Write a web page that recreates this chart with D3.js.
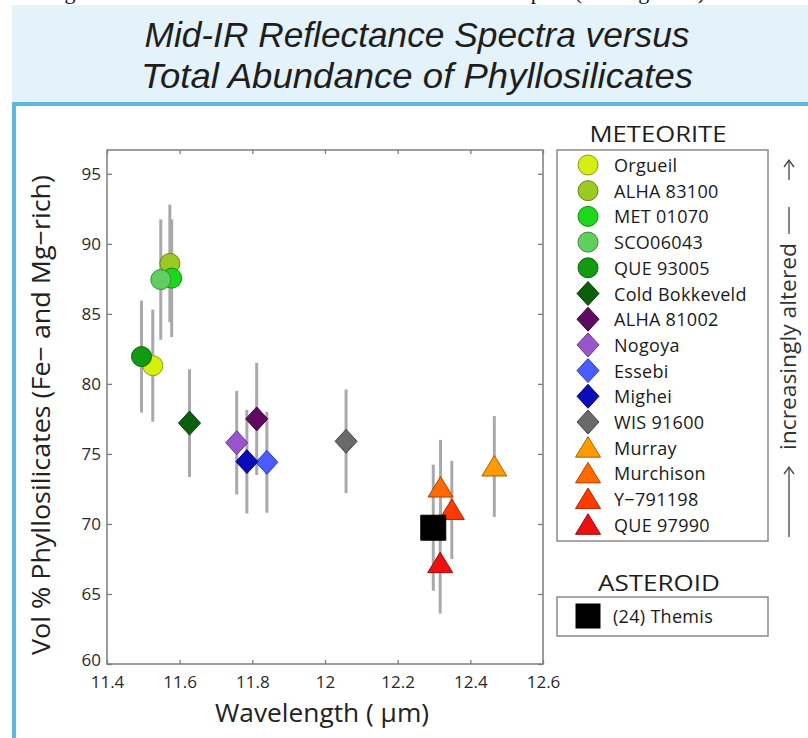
<!DOCTYPE html>
<html><head><meta charset="utf-8">
<script src="https://cdn.jsdelivr.net/npm/d3@7"></script>
<style>body{margin:0;background:#fff}svg{display:block}</style>
</head><body>
<script>
// ---------- data ----------
const names = ["Orgueil","ALHA 83100","MET 01070","SCO06043","QUE 93005","Cold Bokkeveld","ALHA 81002","Nogoya","Essebi","Mighei","WIS 91600","Murray","Murchison","Y\u2212791198","QUE 97990"];
const shapes = ["circle","circle","circle","circle","circle","diamond","diamond","diamond","diamond","diamond","diamond","triangle","triangle","triangle","triangle"];
const colors = ["#d6ee12","#9acb22","#1bd81b","#5fd05f","#139a13","#0c5f0c","#5e0a5e","#9b55cc","#4a5cff","#0b0bb8","#6a6a6a","#ff9a00","#ff6a00","#ff3b00","#ee1010"];
const wavelength = [11.526,11.573,11.578,11.548,11.495,11.627,11.812,11.757,11.840,11.785,12.058,12.466,12.318,12.349,12.317];
const phyllo = [81.3,88.6,87.55,87.45,81.95,77.2,77.5,75.8,74.4,74.45,75.9,74.1,72.6,71.0,67.2];
const errBar = [4.0,4.2,4.2,4.3,4.0,3.85,4.0,3.7,3.6,3.7,3.7,3.6,3.4,3.5,3.6];
const asteroidName = ["(24) Themis"];
const asteroidWave = [12.298];
const asteroidVal = [69.73];
const asteroidErr = [4.5];
const xTicks = [11.4,11.6,11.8,12,12.2,12.4,12.6];
const xTickLabels = ["11.4","11.6","11.8","12","12.2","12.4","12.6"];
const yTicks = [60,65,70,75,80,85,90,95];

// ---------- layout ----------
const W = 808, H = 738;
const svg = d3.select("body").append("svg").attr("width", W).attr("height", H);
svg.append("rect").attr("width", W).attr("height", H).attr("fill", "#fff");

// cut-off caption line at very top
svg.append("text").attr("x", 45).attr("y", -1)
  .attr("font-family", "Liberation Serif").attr("font-size", 22).attr("fill", "#111")
  .attr("textLength", 660)
  .text("Figure 2. Mid-infrared reflectance of meteorite samples (see Figure 1)");

// header
svg.append("rect").attr("x", 12).attr("y", 5).attr("width", W - 12).attr("height", 98).attr("fill", "#e4f2f9");
svg.append("rect").attr("x", 12).attr("y", 102).attr("width", W - 12).attr("height", 4).attr("fill", "#5cb8dc");
svg.append("rect").attr("x", 12).attr("y", 102).attr("width", 4).attr("height", H - 102).attr("fill", "#5cb8dc");

const title = ["Mid-IR Reflectance Spectra versus", "Total Abundance of Phyllosilicates"];
svg.selectAll("text.title").data(title).join("text").attr("class", "title")
  .attr("x", 417).attr("y", (d, i) => 47 + i * 41)
  .attr("text-anchor", "middle")
  .attr("font-family", "Liberation Sans, Arial, sans-serif").attr("font-style", "italic")
  .attr("font-size", 35).attr("fill", "#1e1e1e")
  .attr("textLength", (d, i) => i === 0 ? 545 : 552)
  .attr("lengthAdjust", "spacingAndGlyphs")
  .text(d => d);

// ---------- plot ----------
const x = d3.scaleLinear().domain([11.4, 12.6]).range([107, 543]);
const y = d3.scaleLinear().domain([60, 96.7]).range([664, 150]);
const axisColor = "#7d7d7d";
const FONT = "Open Sans, Noto Sans, sans-serif";

const gx = svg.append("g").attr("transform", `translate(0,${y.range()[0]})`)
  .call(d3.axisBottom(x).tickValues(xTicks).tickFormat((d, i) => xTickLabels[i]).tickSizeInner(-4).tickSizeOuter(0));
gx.select(".domain").remove();
gx.selectAll("line").attr("stroke", axisColor).attr("stroke-width", 1.3);
gx.selectAll("text").attr("y", 12).attr("font-family", FONT).attr("font-size", 17).attr("fill", "#2a2a2a");

const gxt = svg.append("g").attr("transform", `translate(0,${y.range()[1]})`)
  .call(d3.axisTop(x).tickValues(xTicks).tickFormat("").tickSizeInner(-4).tickSizeOuter(0));
gxt.select(".domain").remove();
gxt.selectAll("line").attr("stroke", axisColor).attr("stroke-width", 1.3);

const gy = svg.append("g").attr("transform", `translate(${x.range()[0]},0)`)
  .call(d3.axisLeft(y).tickValues(yTicks).tickFormat(d3.format("d")).tickSizeInner(-5).tickSizeOuter(0).tickPadding(6));
gy.select(".domain").remove();
gy.selectAll("line").attr("stroke", axisColor).attr("stroke-width", 1.3);
gy.selectAll("text").attr("x", -6).attr("font-family", FONT).attr("font-size", 17).attr("fill", "#2a2a2a");
gy.selectAll(".tick").filter(d => d === 60).select("text").attr("dy", "0.1em");

const gyr = svg.append("g").attr("transform", `translate(${x.range()[1]},0)`)
  .call(d3.axisRight(y).tickValues(yTicks).tickFormat("").tickSizeInner(-5).tickSizeOuter(0));
gyr.select(".domain").remove();
gyr.selectAll("line").attr("stroke", axisColor).attr("stroke-width", 1.3);

svg.append("rect").attr("x", x.range()[0]).attr("y", y.range()[1])
  .attr("width", x.range()[1] - x.range()[0]).attr("height", y.range()[0] - y.range()[1])
  .attr("fill", "none").attr("stroke", axisColor).attr("stroke-width", 1.5);

// axis titles
svg.append("text").attr("x", 322).attr("y", 722).attr("text-anchor", "middle")
  .attr("font-family", FONT).attr("font-size", 26).attr("fill", "#222")
  .attr("textLength", 214).attr("lengthAdjust", "spacingAndGlyphs")
  .text("Wavelength ( \u03bcm)");
svg.append("text").attr("transform", "translate(50,415) rotate(-90)").attr("text-anchor", "middle")
  .attr("font-family", FONT).attr("font-size", 26).attr("fill", "#222")
  .attr("textLength", 480).attr("lengthAdjust", "spacingAndGlyphs")
  .text("Vol % Phyllosilicates (Fe\u2212 and Mg\u2212rich)");

// marker shapes
function shapePath(type) {
  if (type === "circle") return "M10,0A10,10 0 1,1 -10,0A10,10 0 1,1 10,0Z";
  if (type === "diamond") return "M0,-12L11,0L0,12L-11,0Z";
  if (type === "triangle") return "M0,-11L12.5,9.5L-12.5,9.5Z";
  if (type === "square") return "M-12.5,-12.5H12.5V12.5H-12.5Z";
}
const meteorites = names.map((n, i) => ({name: n, shape: shapes[i], color: colors[i], w: wavelength[i], v: phyllo[i], e: errBar[i]}));
const asteroids = asteroidName.map((n, i) => ({name: n, shape: "square", color: "#000", w: asteroidWave[i], v: asteroidVal[i], e: asteroidErr[i]}));
const all = meteorites.concat(asteroids);

svg.append("g").selectAll("line").data(all).join("line")
  .attr("x1", d => x(d.w)).attr("x2", d => x(d.w))
  .attr("y1", d => y(d.v + d.e)).attr("y2", d => y(d.v - d.e))
  .attr("stroke", "#a9a9a9").attr("stroke-width", 3);

svg.append("g").selectAll("path").data(all).join("path")
  .attr("transform", d => `translate(${x(d.w)},${y(d.v)})`)
  .attr("d", d => shapePath(d.shape))
  .attr("fill", d => d.color)
  .attr("stroke", d => d.shape === "square" ? "#000" : d3.color(d.color).darker(1.2))
  .attr("stroke-width", 1);

// ---------- legend ----------
svg.append("text").attr("x", 658).attr("y", 142).attr("text-anchor", "middle")
  .attr("font-family", FONT).attr("font-size", 22).attr("fill", "#1e1e1e")
  .attr("textLength", 137).attr("lengthAdjust", "spacingAndGlyphs").text("METEORITE");
svg.append("rect").attr("x", 557).attr("y", 150).attr("width", 211).attr("height", 391)
  .attr("fill", "#fff").attr("stroke", "#8a8a8a").attr("stroke-width", 1.5);
const lg = svg.append("g").selectAll("g").data(meteorites).join("g")
  .attr("transform", (d, i) => `translate(588,${165 + i * 25.7})`);
lg.append("path").attr("d", d => shapePath(d.shape)).attr("fill", d => d.color)
  .attr("stroke", d => d3.color(d.color).darker(1.2)).attr("stroke-width", 1);
lg.append("text").attr("x", 26).attr("y", 7).attr("font-family", FONT).attr("font-size", 18)
  .attr("letter-spacing", 0.3).attr("fill", "#1a1a1a").text(d => d.name);

svg.append("text").attr("x", 659).attr("y", 591).attr("text-anchor", "middle")
  .attr("font-family", FONT).attr("font-size", 22).attr("fill", "#1e1e1e")
  .attr("textLength", 122).attr("lengthAdjust", "spacingAndGlyphs").text("ASTEROID");
svg.append("rect").attr("x", 557).attr("y", 597).attr("width", 211).attr("height", 39)
  .attr("fill", "#fff").attr("stroke", "#8a8a8a").attr("stroke-width", 1.5);
const ag = svg.append("g").selectAll("g").data(asteroids).join("g")
  .attr("transform", (d, i) => `translate(588,${616 + i * 25.7})`);
ag.append("path").attr("d", d => shapePath(d.shape)).attr("fill", "#000");
ag.append("text").attr("x", 25).attr("y", 7).attr("font-family", FONT).attr("font-size", 18)
  .attr("letter-spacing", 0.3).attr("fill", "#1a1a1a").text(d => d.name);

// side note: increasingly altered
const sx = 789;
svg.append("text").attr("transform", `translate(${sx + 7},450) rotate(-90)`)
  .attr("font-family", FONT).attr("font-size", 21).attr("fill", "#333")
  .attr("textLength", 207).attr("lengthAdjust", "spacingAndGlyphs").text("increasingly altered");
const arrowStroke = "#444";
function arrow(yTail, yHead) {
  svg.append("line").attr("x1", sx).attr("x2", sx).attr("y1", yTail).attr("y2", yHead)
    .attr("stroke", arrowStroke).attr("stroke-width", 1.3);
  svg.append("path").attr("d", `M${sx - 5},${yHead + 7}L${sx},${yHead}L${sx + 5},${yHead + 7}`)
    .attr("fill", "none").attr("stroke", arrowStroke).attr("stroke-width", 1.3);
}
arrow(537, 467);
arrow(180, 160);
svg.append("line").attr("x1", sx).attr("x2", sx).attr("y1", 207).attr("y2", 234)
  .attr("stroke", arrowStroke).attr("stroke-width", 1.3);
</script>
</body></html>
